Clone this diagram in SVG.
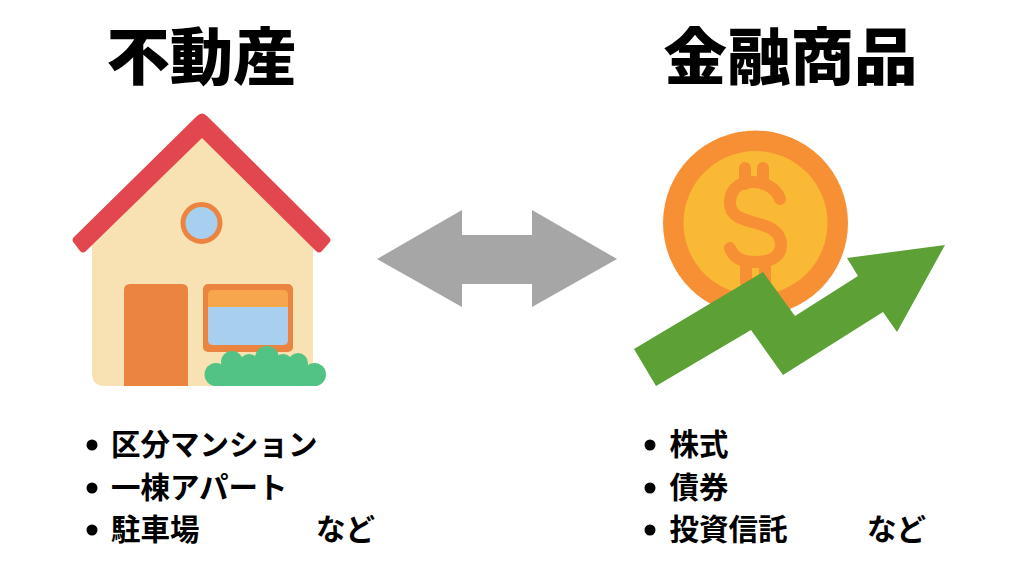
<svg xmlns="http://www.w3.org/2000/svg" width="1024" height="576" viewBox="0 0 1024 576">
<style>
text{font-family:"Noto Sans CJK JP","Noto Sans CJK SC",sans-serif;fill:#000}
.t{font-size:62px;font-weight:900;text-anchor:middle}
.b{font-size:29.500px;font-weight:700}
</style>
<rect width="1024" height="576" fill="#fff"/>
<g id="title-left"><text class="t" x="201.500" y="80" textLength="190" lengthAdjust="spacingAndGlyphs">不動産</text></g>
<g id="title-right"><text class="t" x="790.500" y="80" textLength="254" lengthAdjust="spacingAndGlyphs">金融商品</text></g>
<g id="house">
<path d="M92 245L201 130L313 245V386H105Q92 386 92 373Z" fill="#f8e2b4"/>
<path d="M197 116Q202 111 207 116L329 237Q332 240 329 243L322 251Q319 254 316 251L202 138L86 251Q83 254 80 251L74 243Q71 240 74 237Z" fill="#e2474f"/>
<circle cx="201.500" cy="223" r="18.500" fill="#a6d0ee" stroke="#eb8441" stroke-width="5"/>
<path d="M124 386V290Q124 284 130 284H182Q188 284 188 290V386Z" fill="#eb8441"/>
<rect x="203" y="284" width="90" height="68" rx="5" fill="#eb8441"/>
<path d="M208 307V295Q208 290 213 290H283Q288 290 288 295V307Z" fill="#f7a64d"/>
<path d="M208 307H288V340Q288 345 283 345H213Q208 345 208 340Z" fill="#a6d0ee"/>
<g fill="#53c285">
<circle cx="216" cy="374.500" r="11.500"/><circle cx="232" cy="362" r="11"/><circle cx="249" cy="364" r="10"/><circle cx="267" cy="358" r="12"/><circle cx="283" cy="364" r="10"/><circle cx="298" cy="363" r="10"/><circle cx="314.500" cy="374.500" r="11.500"/>
<rect x="216" y="365" width="98" height="21"/>
</g>
</g>
<g id="connectors">
<path id="double-arrow" d="M377 259L462 210V235H532V210L617 259L532 307V284H462V307Z" fill="#a6a6a6"/>
</g>
<g id="coin-chart">
<circle cx="755.500" cy="223" r="92.500" fill="#f79035"/>
<circle cx="755.500" cy="223" r="72" fill="#f9b935"/>
<path d="M745 168V184M763 168V184M780 199C776 187 762 181 750 182C736 183 730 192 730 203C730 214 738 218 752 222C769 226 781 231 781 245C781 257 770 262 755 262C741 262 733 257 730 248M746 262V282M765 262V282" fill="none" stroke="#f79035" stroke-width="12" stroke-linecap="round" stroke-linejoin="round"/>
<path d="M634 349L763 272L795 316L858 276L847 258L945 245L897 332L883 312L783 375L751 330L656 386Z" fill="#5da035"/>
</g>
<g id="list-left">
<circle cx="92" cy="445" r="5.500"/><circle cx="92" cy="488" r="5.500"/><circle cx="92" cy="530" r="5.500"/>
<text class="b" x="111" y="455">区分マンション</text>
<text class="b" x="111" y="498">一棟アパート</text>
<text class="b" x="111" y="540">駐車場</text>
<text class="b" x="316" y="540">など</text>
</g>
<g id="list-right">
<circle cx="650" cy="445" r="5.500"/><circle cx="650" cy="488" r="5.500"/><circle cx="650" cy="530" r="5.500"/>
<text class="b" x="669.500" y="455">株式</text>
<text class="b" x="669.500" y="498">債券</text>
<text class="b" x="669.500" y="540">投資信託</text>
<text class="b" x="867" y="540">など</text>
</g>
</svg>
